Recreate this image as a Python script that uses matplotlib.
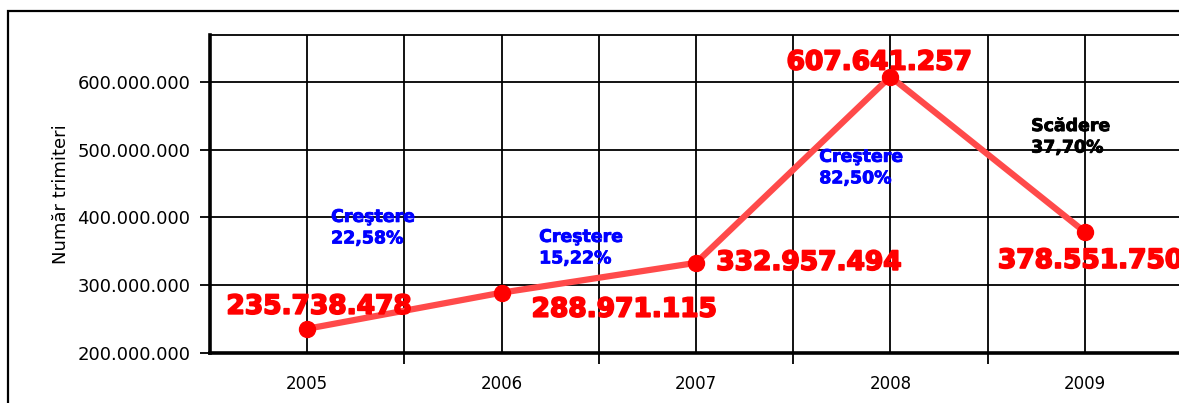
import matplotlib
matplotlib.use("Agg")
import matplotlib.pyplot as plt
import matplotlib.patheffects as pe
from matplotlib.ticker import FuncFormatter, FixedLocator
from matplotlib.patches import Rectangle

years = ["2005", "2006", "2007", "2008", "2009"]
values = [235738478, 288971115, 332957494, 607641257, 378551750]
value_labels = ["235.738.478", "288.971.115", "332.957.494", "607.641.257", "378.551.750"]
change_labels = ["Creştere\n22,58%", "Creştere\n15,22%", "Creştere\n82,50%", "Scădere\n37,70%"]
change_colors = ["#0000ff", "#0000ff", "#0000ff", "#000000"]
y_ticks = [200e6, 300e6, 400e6, 500e6, 600e6]
y_label = "Număr trimiteri"

W, H, DPI = 1179, 403, 100
fig = plt.figure(figsize=(W / DPI, H / DPI), dpi=DPI)
fig.patch.set_facecolor("white")

# outer chart border
fig.add_artist(Rectangle((8 / W, -0.2), 1.3, 1.2 - 11 / H, transform=fig.transFigure,
                         fill=False, lw=1.6, ec="black", clip_on=False))

ax = fig.add_axes([210 / W, 1 - 353 / H, 972 / W, (353 - 35) / H])
x = list(range(len(years)))
ax.set_xlim(-0.5, len(years) - 0.5)
ax.set_ylim(200e6, 669e6)

ax.plot(x, values, color="#ff4a4a", lw=4.5, solid_capstyle="butt", zorder=3)
ax.plot(x, values, "o", color="#ff0000", ms=11.5, zorder=4)

# grid
ax.set_xticks(x)
ax.set_xticklabels(years, fontsize=12)
ax.xaxis.set_minor_locator(FixedLocator([i + 0.5 for i in range(len(years) - 1)]))
ax.tick_params(axis="x", which="major", length=0, pad=16)
ax.tick_params(axis="x", which="minor", length=8, width=1.3, direction="out")
ax.set_yticks(y_ticks)
ax.yaxis.set_major_formatter(FuncFormatter(lambda v, p: f"{int(v):,}".replace(",", ".")))
ax.tick_params(axis="y", length=7, width=1.3, pad=7, labelsize=13)
ax.grid(True, which="both", axis="x", color="black", lw=1.3)
ax.grid(True, which="major", axis="y", color="black", lw=1.3)
ax.set_axisbelow(True)
for s in ["left", "bottom"]:
    ax.spines[s].set_linewidth(2.6)
for s in ["top", "right"]:
    ax.spines[s].set_linewidth(1.3)

ax.set_ylabel(y_label, fontsize=13)
ax.yaxis.set_label_coords(-140 / 972, 0.5)

# value labels (offsets in pixels relative to the points)
offsets = [(12, 22), (123, -17), (113, 0), (-11, 14), (6, -29)]
for i, (v, lab) in enumerate(zip(values, value_labels)):
    ax.annotate(lab, (i, v), xytext=offsets[i], textcoords="offset pixels",
                ha="center", va="center", color="#ff0000", fontsize=19,
                fontweight="bold", zorder=5, annotation_clip=False,
                path_effects=[pe.withStroke(linewidth=1.3, foreground="#ff0000")])

# change labels
change_pos = [(0.123, 414e6), (1.193, 384.5e6), (2.634, 502.6e6), (3.724, 548e6)]
for (cx, cy), lab, col in zip(change_pos, change_labels, change_colors):
    ax.text(cx, cy, lab, ha="left", va="top", color=col, fontsize=12.5,
            fontweight="bold", linespacing=1.25, zorder=5,
            path_effects=[pe.withStroke(linewidth=0.6, foreground=col)])

fig.savefig("out.png", dpi=DPI)
